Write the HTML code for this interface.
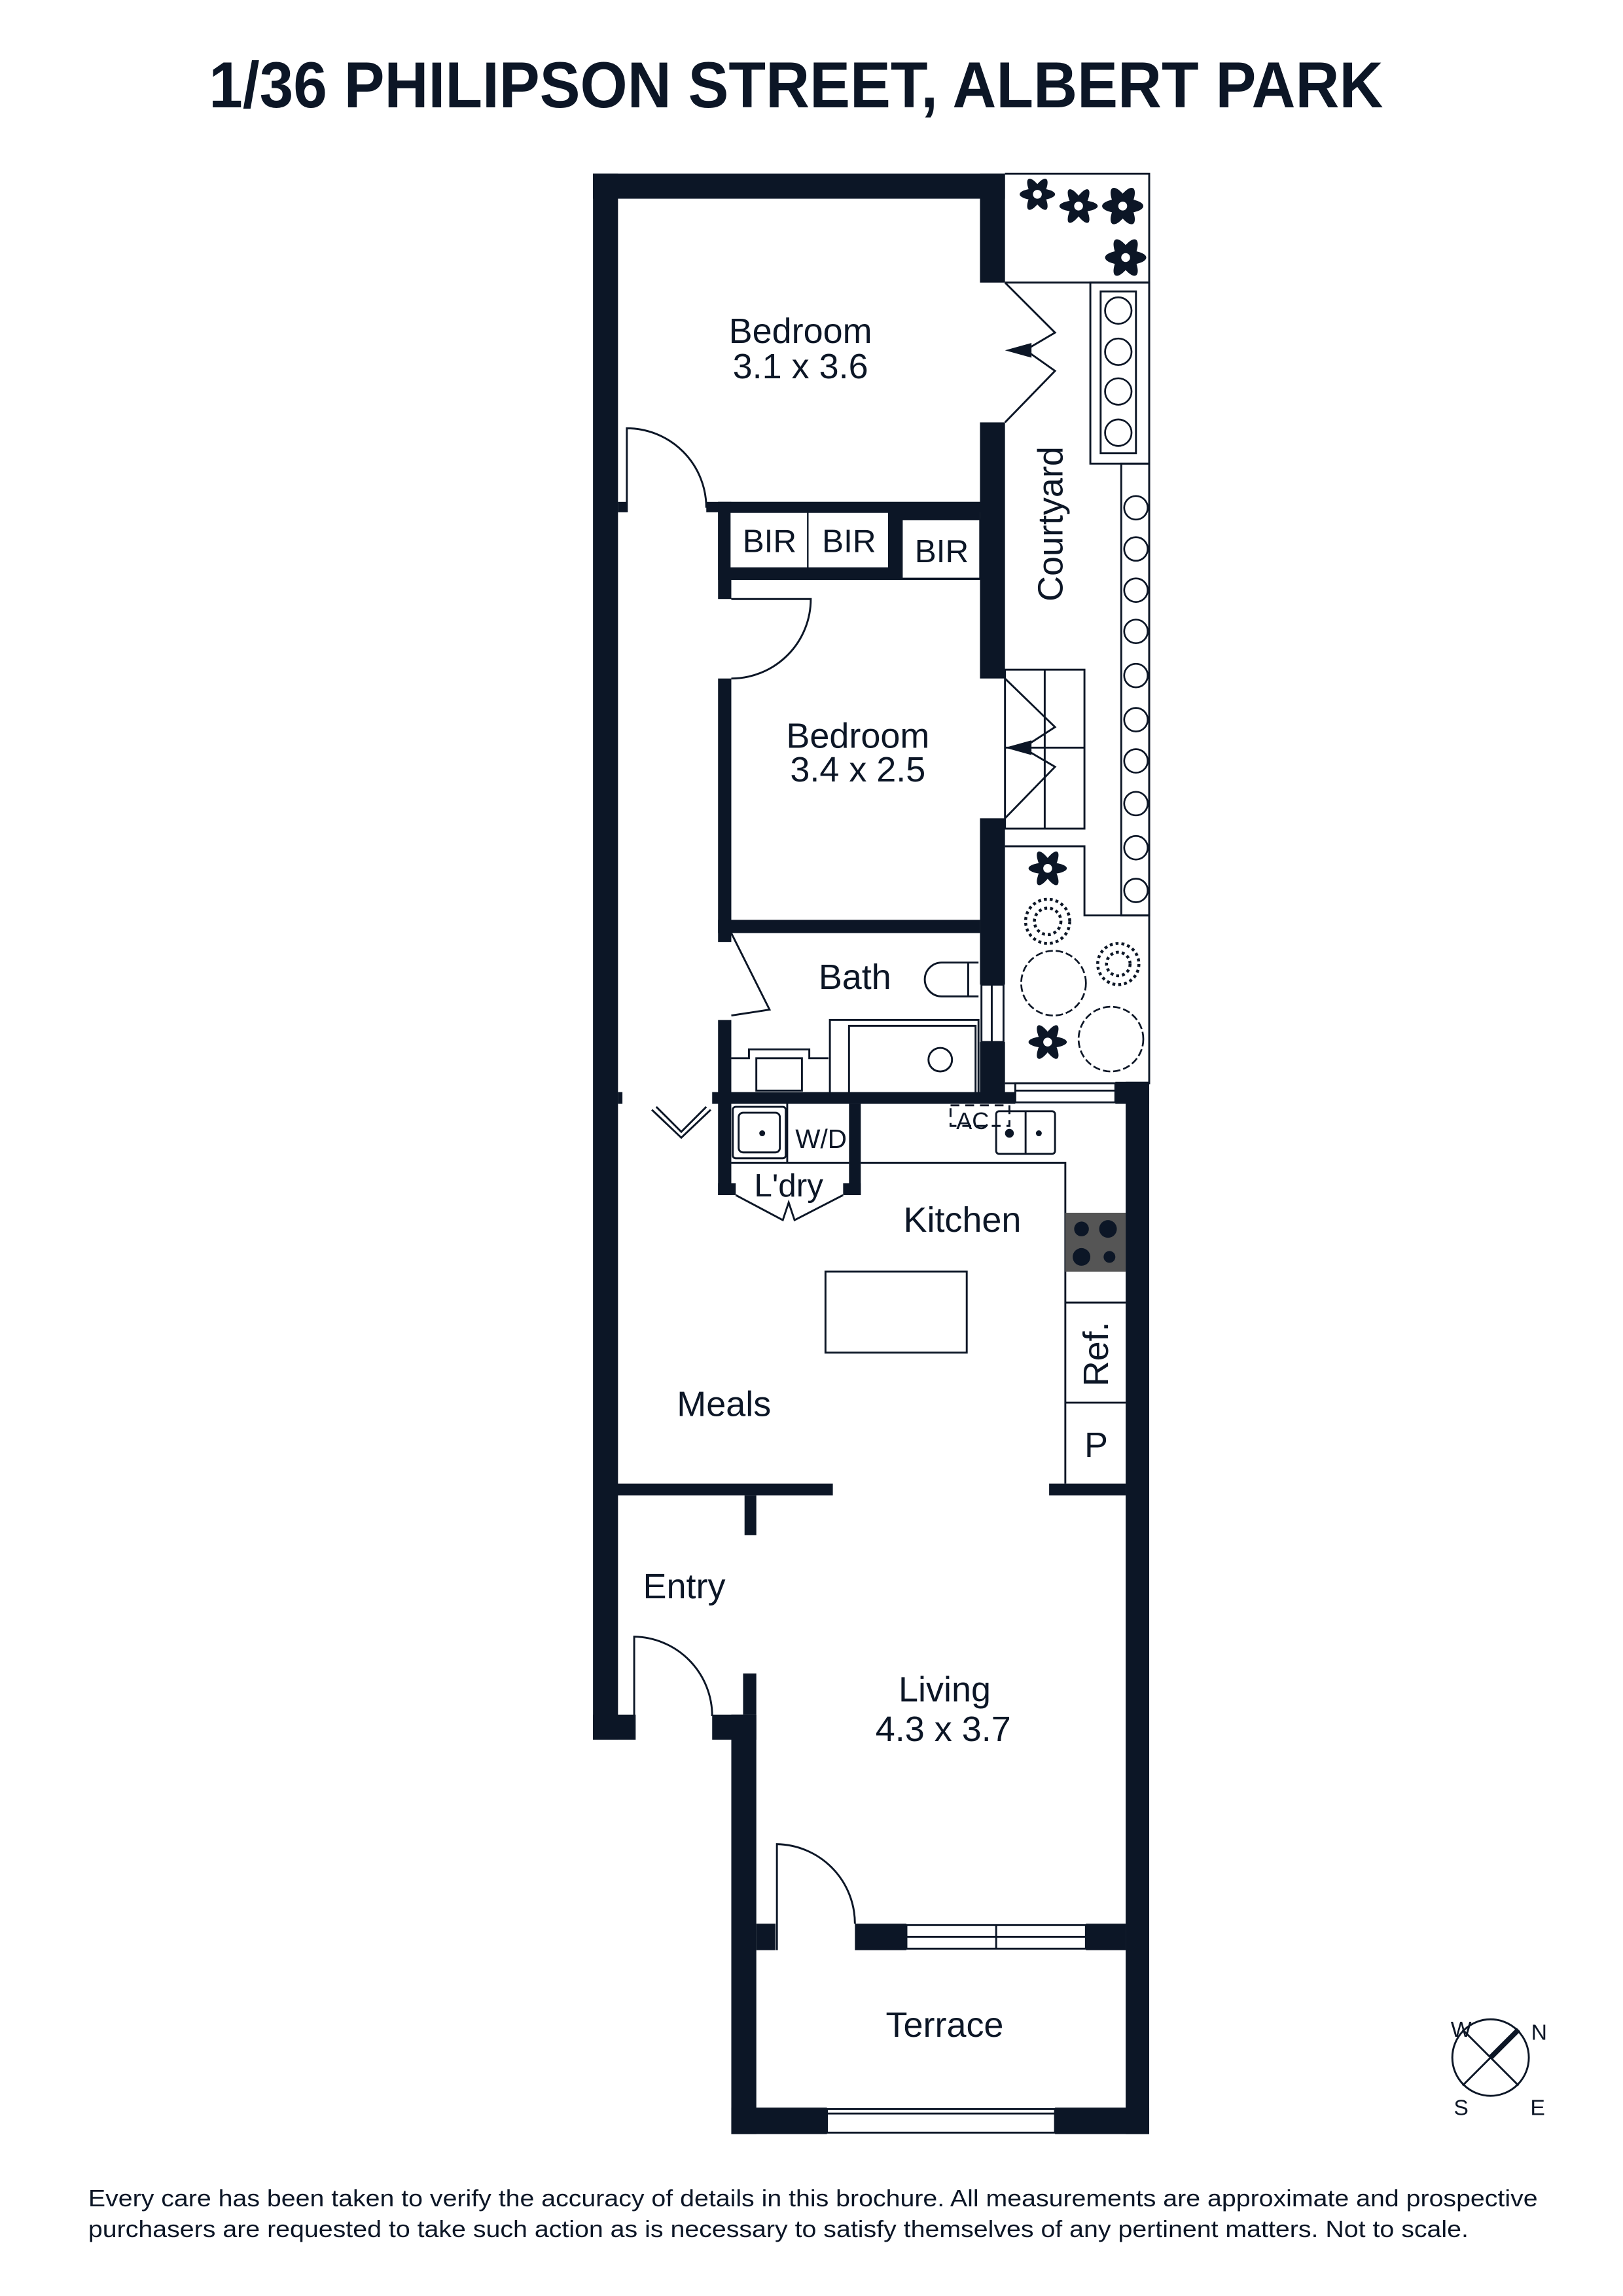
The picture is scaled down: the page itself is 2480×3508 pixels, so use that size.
<!DOCTYPE html>
<html><head><meta charset="utf-8"><style>
html,body{margin:0;padding:0;background:#fff;}
svg{display:block;}
text{font-family:"Liberation Sans",sans-serif;fill:#0c1626;}
</style></head><body>
<svg width="2480" height="3508" viewBox="0 0 1103 1560" preserveAspectRatio="none" xmlns="http://www.w3.org/2000/svg">
<rect width="1103" height="1560" fill="#fff"/>
<text x="541" y="73" text-anchor="middle" font-size="44" font-weight="bold" textLength="798" lengthAdjust="spacingAndGlyphs">1/36 PHILIPSON STREET, ALBERT PARK</text>

<g fill="#0c1626">
<!-- outer walls -->
<rect x="403" y="118" width="280" height="17"/>
<rect x="403" y="118" width="17" height="1064"/>
<rect x="403" y="1165" width="29" height="17"/>
<rect x="484" y="1165" width="30" height="17"/>
<rect x="505" y="1137" width="9" height="28"/>
<rect x="497" y="1165" width="17" height="285"/>
<rect x="497" y="1432" width="65" height="18"/>
<rect x="717" y="1432" width="64" height="18"/>
<rect x="765" y="735" width="16" height="715"/>
<rect x="758" y="735" width="23" height="15"/>
<!-- living/terrace wall -->
<rect x="514" y="1307" width="13" height="18"/>
<rect x="581" y="1307" width="35" height="18"/>
<rect x="738" y="1307" width="27" height="18"/>
<!-- meals wall -->
<rect x="418" y="1008" width="148" height="8"/>
<rect x="713" y="1008" width="52" height="8"/>
<rect x="506" y="1016" width="8" height="27"/>
<!-- bedroom right wall -->
<rect x="666" y="118" width="17" height="74"/>
<rect x="666" y="287" width="17" height="174"/>
<rect x="666" y="556" width="17" height="113"/>
<rect x="666" y="708" width="17" height="41"/>
<!-- BIR block -->
<rect x="480" y="341" width="186" height="7"/>
<rect x="488" y="341" width="178" height="53"/>
<rect x="420" y="341" width="6" height="7"/>
<!-- partition -->
<rect x="488" y="341" width="9" height="66"/>
<rect x="488" y="461" width="9" height="179"/>
<rect x="488" y="693" width="9" height="119"/>
<rect x="488" y="625" width="178" height="9"/>
<!-- bath bottom -->
<rect x="484" y="742" width="206" height="8"/>
<rect x="420" y="742" width="3" height="8"/>
<!-- laundry -->
<rect x="577" y="750" width="8" height="62"/>
<rect x="488" y="804" width="12" height="8"/>
<rect x="573" y="804" width="12" height="8"/>
</g>

<!-- BIR boxes -->
<g fill="#fff" stroke="#0c1626" stroke-width="1">
<rect x="496" y="348" width="53" height="38"/>
<rect x="549" y="348" width="55" height="38"/>
<rect x="613" y="353" width="53" height="40"/>
</g>
<g font-size="22" text-anchor="middle">
<text x="523" y="375">BIR</text>
<text x="577" y="375">BIR</text>
<text x="640" y="382">BIR</text>
</g>

<g fill="none" stroke="#0c1626" stroke-width="1.3">
<!-- bedroom1 door -->
<path d="M426 348 V291 A54 54 0 0 1 480 345"/>
<!-- bedroom2 door -->
<path d="M497 407 H551 A54 54 0 0 1 497 461"/>
<!-- bath door -->
<path d="M497 634 L523 686 L497 690"/>
<!-- hall bifold -->
<path d="M443 754 L463 773 L483 754"/>
<path d="M446 752 L463 769 L480 752"/>
<!-- laundry bifold -->
<path d="M500 812 L532 829 L536 817 L540 829 L573 812"/>
<!-- entry door -->
<path d="M431 1182 V1112 A54 54 0 0 1 484 1166"/>
<!-- terrace door -->
<path d="M528 1325 V1253 A54 54 0 0 1 581 1307"/>
<!-- windows -->
<rect x="616" y="1308" width="122" height="16"/>
<line x1="616" y1="1316" x2="738" y2="1316"/>
<line x1="677" y1="1308" x2="677" y2="1324"/>
<rect x="562" y="1433" width="155" height="16"/>
<line x1="562" y1="1436" x2="717" y2="1436"/>
<rect x="667" y="669" width="15" height="39"/>
<line x1="674" y1="669" x2="674" y2="708"/>
<rect x="690" y="736" width="68" height="13"/>
<line x1="690" y1="741" x2="758" y2="741"/>
<!-- courtyard -->
<polyline points="683,118 781,118 781,736 683,736"/>
<line x1="683" y1="192" x2="781" y2="192"/>
<polyline points="683,192 717,226 700,236"/>
<polyline points="683,287 717,252 700,240"/>
<rect x="741" y="192" width="40" height="123"/>
<rect x="748" y="198" width="24" height="110"/>
<rect x="762" y="315" width="19" height="307"/>
<rect x="683" y="455" width="54" height="108"/>
<line x1="710" y1="455" x2="710" y2="563"/>
<line x1="683" y1="508" x2="737" y2="508"/>
<polyline points="683,461 717,494 700,505"/>
<polyline points="683,556 717,521 700,511"/>
<polyline points="683,575 737,575 737,622 781,622"/>
<!-- bath fixtures -->
<path d="M665 654 H640 A11 11 0 0 0 640 677 H665"/>
<line x1="658" y1="654" x2="658" y2="677"/>
<rect x="564" y="693" width="101" height="54"/>
<rect x="577" y="697" width="86" height="47"/>
<circle cx="639" cy="720" r="8"/>
<polyline points="497,719 509,719 509,713 550,713 550,719 563,719"/>
<rect x="514" y="719" width="31" height="22"/>
<!-- laundry trough -->
<rect x="498" y="752" width="36" height="35" rx="2"/>
<rect x="502" y="756" width="28" height="27" rx="3"/>
<line x1="535" y1="750" x2="535" y2="790"/>
<line x1="497" y1="790" x2="577" y2="790"/>
<!-- kitchen bench -->
<polyline points="585,790 724,790 724,1008"/>
<line x1="724" y1="885" x2="765" y2="885"/>
<line x1="724" y1="953" x2="765" y2="953"/>
<rect x="677" y="755" width="40" height="29" rx="2"/>
<line x1="697" y1="755" x2="697" y2="784"/>
<rect x="646" y="751" width="40" height="14" stroke-dasharray="6,4"/>
<!-- island -->
<rect x="561" y="864" width="96" height="55"/>
<!-- compass -->
<circle cx="1013" cy="1398" r="26"/>
<line x1="994" y1="1379" x2="1032" y2="1417"/>
<line x1="994" y1="1417" x2="1013" y2="1398"/>
</g>
<line x1="1013" y1="1398" x2="1032" y2="1379" stroke="#0c1626" stroke-width="3.5"/>
<g fill="#0c1626">
<polygon points="683,238 701,233 701,243"/>
<polygon points="683,508 701,503 701,513"/>
<rect x="724" y="824" width="41" height="40" fill="#555"/>
<circle cx="735" cy="835" r="5" fill="#0c1626"/><circle cx="753" cy="835" r="6" fill="#0c1626"/>
<circle cx="735" cy="854" r="6" fill="#0c1626"/><circle cx="754" cy="854" r="4" fill="#0c1626"/>
<circle cx="518" cy="770" r="2"/><circle cx="686" cy="770" r="3"/><circle cx="706" cy="770" r="2"/>
</g>
<!-- planter circles -->
<g fill="#fff" stroke="#0c1626" stroke-width="1.2">
<circle cx="760" cy="211" r="9"/><circle cx="760" cy="239" r="9"/><circle cx="760" cy="266" r="9"/><circle cx="760" cy="294" r="9"/>
<circle cx="772" cy="345" r="8"/><circle cx="772" cy="373" r="8"/><circle cx="772" cy="401" r="8"/><circle cx="772" cy="429" r="8"/><circle cx="772" cy="459" r="8"/><circle cx="772" cy="489" r="8"/><circle cx="772" cy="517" r="8"/><circle cx="772" cy="546" r="8"/><circle cx="772" cy="576" r="8"/><circle cx="772" cy="605" r="8"/>
<circle cx="716" cy="668" r="22" stroke-dasharray="5,2"/>
<circle cx="755" cy="706" r="22" stroke-dasharray="5,2"/>
</g>
<!-- flowers -->
<g fill="#0c1626">
<g transform="translate(705,132)"><ellipse rx="12" ry="4"/><ellipse rx="12" ry="4" transform="rotate(60)"/><ellipse rx="12" ry="4" transform="rotate(120)"/><circle r="3" fill="#fff"/></g>
<g transform="translate(733,140)"><ellipse rx="13" ry="4"/><ellipse rx="13" ry="4" transform="rotate(60)"/><ellipse rx="13" ry="4" transform="rotate(120)"/><circle r="3" fill="#fff"/></g>
<g transform="translate(763,140)"><ellipse rx="14" ry="5"/><ellipse rx="14" ry="5" transform="rotate(60)"/><ellipse rx="14" ry="5" transform="rotate(120)"/><circle r="3" fill="#fff"/></g>
<g transform="translate(765,175)"><ellipse rx="14" ry="5"/><ellipse rx="14" ry="5" transform="rotate(60)"/><ellipse rx="14" ry="5" transform="rotate(120)"/><circle r="3" fill="#fff"/></g>
<g transform="translate(712,590)"><ellipse rx="13" ry="4"/><ellipse rx="13" ry="4" transform="rotate(60)"/><ellipse rx="13" ry="4" transform="rotate(120)"/><circle r="3" fill="#fff"/></g>
<g transform="translate(712,708)"><ellipse rx="13" ry="4"/><ellipse rx="13" ry="4" transform="rotate(60)"/><ellipse rx="13" ry="4" transform="rotate(120)"/><circle r="3" fill="#fff"/></g>
</g>
<g fill="none" stroke="#0c1626" stroke-width="2" stroke-dasharray="2,2">
<circle cx="712" cy="626" r="15"/><circle cx="712" cy="626" r="9"/>
<circle cx="760" cy="655" r="14"/><circle cx="760" cy="655" r="8"/>
</g>

<!-- labels -->
<g font-size="24" text-anchor="middle">
<text x="544" y="233">Bedroom</text>
<text x="544" y="257">3.1 x 3.6</text>
<text x="583" y="508">Bedroom</text>
<text x="583" y="531">3.4 x 2.5</text>
<text x="581" y="672">Bath</text>
<text x="654" y="837">Kitchen</text>
<text x="492" y="962">Meals</text>
<text x="465" y="1086">Entry</text>
<text x="642" y="1156">Living</text>
<text x="641" y="1183">4.3 x 3.7</text>
<text x="642" y="1384">Terrace</text>
<text x="745" y="990">P</text>
<text transform="translate(753,920) rotate(-90)">Ref.</text>
<text transform="translate(722,356) rotate(-90)">Courtyard</text>
</g>
<g font-size="18" text-anchor="middle">
<text x="558" y="780">W/D</text>
<text x="536" y="813" font-size="22">L'dry</text>
<text x="661" y="767" font-size="16">AC</text>
</g>
<g font-size="15" text-anchor="middle">
<text x="993" y="1384">W</text>
<text x="1046" y="1386">N</text>
<text x="993" y="1437">S</text>
<text x="1045" y="1437">E</text>
</g>
<g font-size="16">
<text x="60" y="1499" textLength="985" lengthAdjust="spacingAndGlyphs">Every care has been taken to verify the accuracy of details in this brochure. All measurements are approximate and prospective</text>
<text x="60" y="1520" textLength="938" lengthAdjust="spacingAndGlyphs">purchasers are requested to take such action as is necessary to satisfy themselves of any pertinent matters. Not to scale.</text>
</g>
</svg>
</body></html>
